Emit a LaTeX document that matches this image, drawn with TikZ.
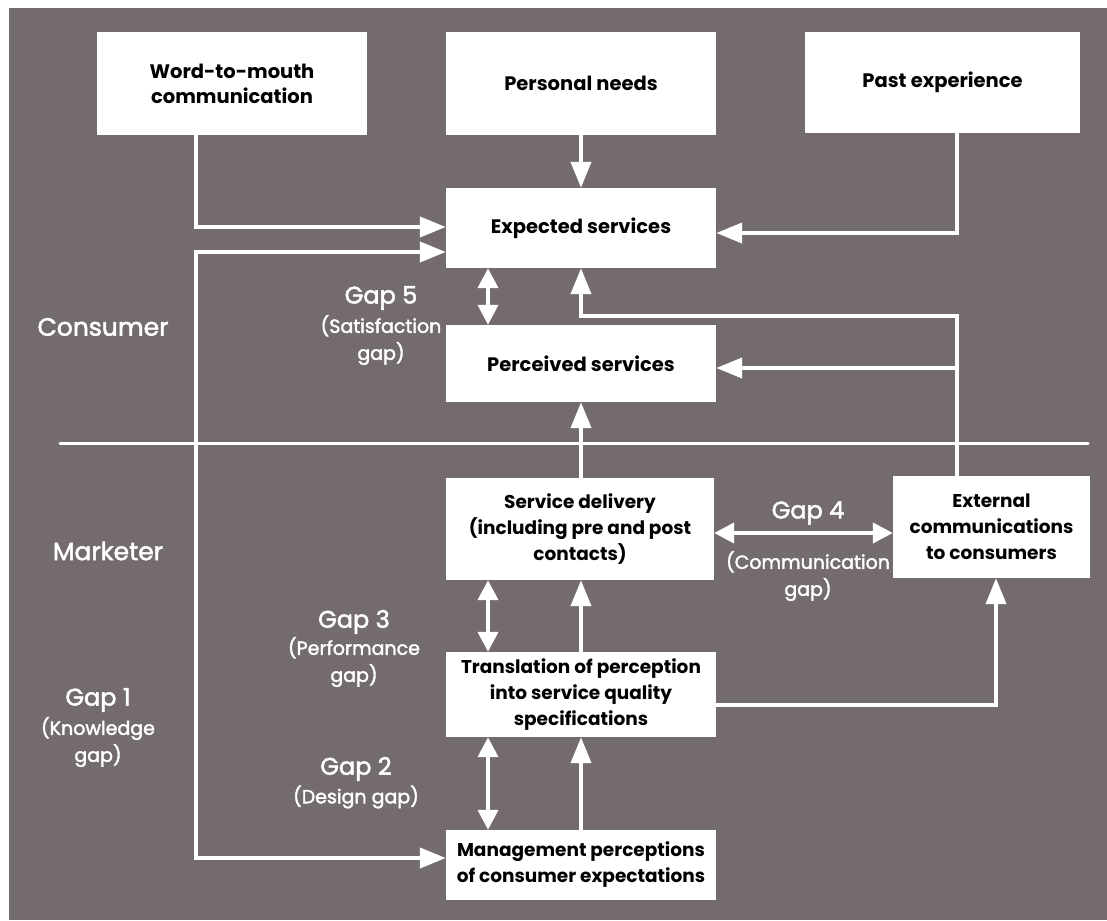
\documentclass[tikz,border=0pt]{standalone}
\usepackage{fontspec}
\setmainfont{Poppins}
\newfontfamily\popmed{Poppins}[FakeBold=2]
\usetikzlibrary{arrows.meta,calc}
\definecolor{bg}{RGB}{116,107,108}
\begin{document}
\begin{tikzpicture}[x=1pt,y=-1pt,
  box/.style={fill=white,inner sep=0pt,align=center,text=black,
    font=\fontsize{19.5}{25}\selectfont\bfseries},
  sbox/.style={box,font=\fontsize{18.5}{26}\selectfont\bfseries},
  side/.style={text=white,align=center,font=\popmed\fontsize{25}{28}\selectfont},
  gaplbl/.style={text=white,align=center,font=\popmed\fontsize{24}{27}\selectfont},
  sublbl/.style={text=white,align=center,font=\popmed\fontsize{19}{27}\selectfont},
  conn/.style={draw=white,line width=4pt,-{Triangle[length=26pt,width=20pt]}},
  both/.style={draw=white,line width=4pt,{Triangle[length=20pt,width=20pt]}-{Triangle[length=20pt,width=20pt]}},
  both1/.style={draw=white,line width=4pt,{Triangle[length=26pt,width=20pt]}-{Triangle[length=26pt,width=20pt]}}
]
\useasboundingbox (0,0) rectangle (1107,920);
\fill[white] (0,0) rectangle (1107,920);
\fill[bg] (9,8) rectangle (1107,920);

% boxes
\node[box,minimum width=270,minimum height=103] (wm) at (232,83.5) {Word-to-mouth\\communication};
\node[box,minimum width=270,minimum height=103] (pn) at (581,83.5) {Personal needs};
\node[box,minimum width=275,minimum height=101] (pe) at (942.5,82.5) {Past experience};
\node[box,minimum width=270,minimum height=80] (es) at (581,228) {Expected services};
\node[box,minimum width=270,minimum height=77] (ps) at (581,363.5) {Perceived services};
\node[sbox,minimum width=268,minimum height=102] (sd) at (580,529) {Service delivery\\(including pre and post\\contacts)};
\node[sbox,minimum width=197,minimum height=102] (ec) at (991.5,527) {External\\communications\\to consumers};
\node[sbox,minimum width=270,minimum height=85] (tr) at (581,694.5) {Translation of perception\\into service quality\\specifications};
\node[sbox,minimum width=270,minimum height=70] (mp) at (581,865) {Management perceptions\\of consumer expectations};

% labels
\node[side] (lc) at (103,327) {Consumer};
\node[side] (lm) at (108,551) {Marketer};
\node[gaplbl] (g5) at (381,298) {Gap 5};
\node[sublbl] (g5s) at (381,340) {(Satisfaction\\gap)};
\node[gaplbl] (g4) at (808,513) {Gap 4};
\node[sublbl] (g4s) at (808,576) {(Communication\\gap)};
\node[gaplbl] (g3) at (354,622) {Gap 3};
\node[sublbl] (g3s) at (354,662) {(Performance\\gap)};
\node[gaplbl] (g1) at (98,700) {Gap 1};
\node[sublbl] (g1s) at (98,742) {(Knowledge\\gap)};
\node[gaplbl] (g2) at (356,769) {Gap 2};
\node[sublbl] (g2s) at (356,797) {(Design gap)};

% divider
\draw[white,line width=3pt,line cap=round] (60,443) -- (1088,443);

% coordinates
\coordinate (wx) at (196,227);
\coordinate (g1a) at (196,252);
\coordinate (g1b) at (196,858);
\coordinate (px) at (957,233);
\coordinate (t1) at (957,316);
\coordinate (t2) at (957,368);
\coordinate (g4y) at (800,533);
\coordinate (g3x) at (488,600);
\coordinate (tc) at (996,705);

% connectors
\draw[conn] (wm.south -| wx) -- (wx) -- (wx -| es.west);
\draw[both1] (g1a -| es.west) -- (g1a) -- (g1b) -- (g1b -| mp.west);
\draw[conn] (pn.south) -- (es.north);
\draw[conn] (pe.south -| px) -- (px) -- (px -| es.east);
\draw[both] (es.south -| g3x) -- (ps.north -| g3x);
\draw[conn] (ec.north -| t1) -- (t1) -| (es.south);
\draw[conn] (t2) -- (t2 -| ps.east);
\draw[conn] (sd.north -| ps.south) -- (ps.south);
\draw[both] (g4y -| sd.east) -- (g4y -| ec.west);
\draw[both] (sd.south -| g3x) -- (tr.north -| g3x);
\draw[conn] (tr.north) -- (tr.north |- sd.south);
\draw[conn] (tr.east |- tc) -- (tc) -- (tc |- ec.south);
\draw[both] (tr.south -| g3x) -- (mp.north -| g3x);
\draw[conn] (mp.north) -- (tr.south);
\end{tikzpicture}
\end{document}
